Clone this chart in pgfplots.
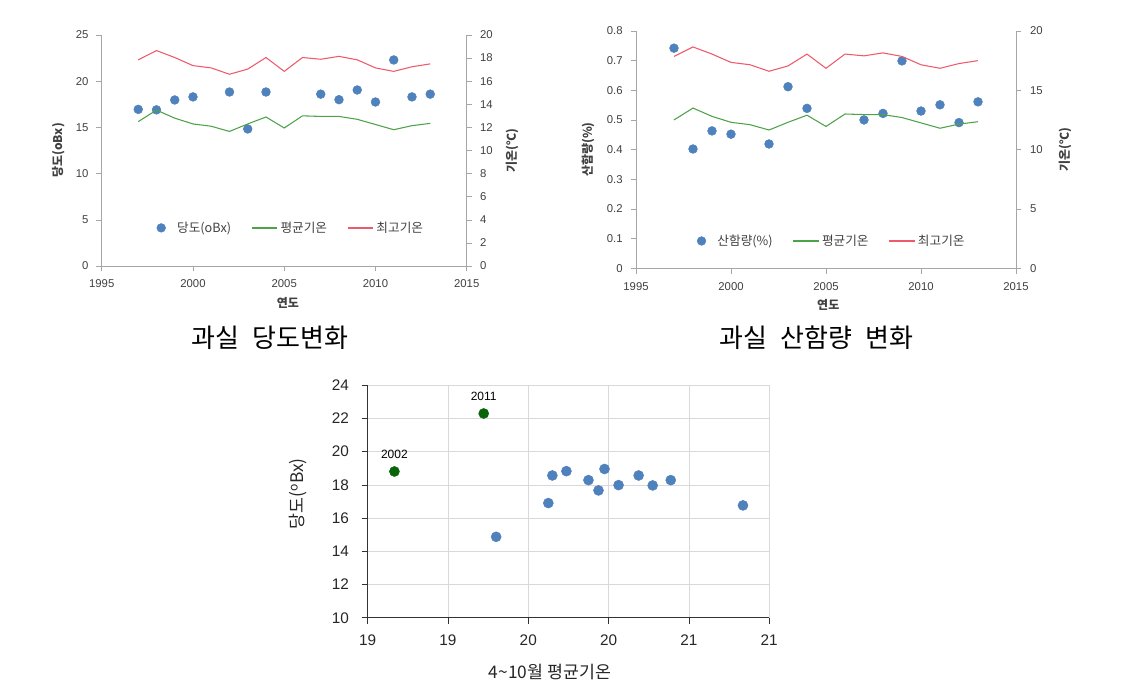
\documentclass[border=0pt]{standalone}
\usepackage{fontspec}
\setmainfont{Liberation Sans}
\newfontfamily\kr{Noto Sans CJK KR}
\usepackage{pgfplots}
\usepackage{pgfplotstable}
\pgfplotsset{compat=1.18}
\definecolor{mblue}{HTML}{4F81BD}
\definecolor{lgreen}{HTML}{4EA24A}
\definecolor{lred}{HTML}{EE5A6A}
\definecolor{axgray}{HTML}{A6A6A6}
\definecolor{txtgray}{HTML}{404040}
\definecolor{dgreen}{HTML}{0A640A}
\definecolor{gridgray}{HTML}{D9D9D9}

\pgfplotstableread{
year brix
1997 16.95
1998 16.90
1999 17.97
2000 18.30
2002 18.83
2003 14.83
2004 18.83
2007 18.60
2008 18.00
2009 19.05
2010 17.75
2011 22.30
2012 18.30
2013 18.60
}\brixtab

\pgfplotstableread{
year acid
1997 0.742
1998 0.402
1999 0.463
2000 0.452
2002 0.419
2003 0.612
2004 0.539
2007 0.500
2008 0.522
2009 0.699
2010 0.530
2011 0.551
2012 0.491
2013 0.561
}\acidtab

\pgfplotstableread{
year mean max
1997 12.50 17.85
1998 13.50 18.65
1999 12.80 18.05
2000 12.30 17.35
2001 12.10 17.15
2002 11.65 16.60
2003 12.30 17.05
2004 12.90 18.05
2005 11.95 16.85
2006 13.00 18.05
2007 12.95 17.90
2008 12.95 18.15
2009 12.70 17.85
2010 12.25 17.15
2011 11.80 16.85
2012 12.15 17.25
2013 12.35 17.50
}\temptab

\pgfplotstableread{
t brix
19.64 14.87
19.90 16.90
19.92 18.56
19.99 18.82
20.10 18.28
20.15 17.66
20.18 18.95
20.25 17.98
20.35 18.56
20.42 17.96
20.51 18.28
20.87 16.76
}\scattab

\pgfplotsset{
  yearbase/.style={
    scale only axis,
    xmin=1995, xmax=2015,
    xtick={1995,2000,...,2015},
    axis line style={axgray},
    tick style={axgray, thin},
    tick align=outside,
    major tick length=4pt,
    ticklabel style={font=\fontsize{8.5}{10}\selectfont, text=txtgray},
    /pgf/number format/assume math mode=true,
    /pgf/number format/1000 sep={},
  },
  legbase/.style={
    legend columns=3,
    legend style={draw=none, fill=none, anchor=center,
      font=\kr\fontsize{9.5}{11}\selectfont, text=txtgray,
      /tikz/every even column/.append style={column sep=13pt}},
  },
  markleg/.style={legend image code/.code={\fill[mblue] (3.25pt,0pt) circle (3.25pt); \path (13pt,0pt);}},
  greenleg/.style={legend image code/.code={\draw[lgreen, line width=1pt] (0pt,0pt) -- (19pt,0pt);}},
  redleg/.style={legend image code/.code={\draw[lred, line width=1pt] (0pt,0pt) -- (19pt,0pt);}},
}

\begin{document}
\begin{tikzpicture}
\useasboundingbox (0,0) rectangle (841.5pt,517.5pt);

% ---------------- Panel 1 ----------------
\begin{axis}[yearbase,
  width=273.75pt, height=173.25pt,
  at={(76.3pt,318pt)}, anchor=south west,
  axis x line*=bottom, axis y line*=left,
  ymin=0, ymax=25, ytick={0,5,...,25},
  yticklabel style={xshift=-2.5pt},
  xticklabel style={yshift=-3pt},
  every axis y label/.style={at={(rel axis cs:-0.119,0.5)}, rotate=90, anchor=center},
  every axis x label/.style={at={(rel axis cs:0.51,-0.159)}, anchor=center},
  ylabel={\kr\bfseries\fontsize{9}{10}\selectfont 당도(oBx)},
  xlabel={\kr\bfseries\fontsize{9}{10}\selectfont 연도},
  label style={text=txtgray},
]
\addplot[only marks, mark=*, mark size=3.3pt, mblue] table[x=year, y=brix] {\brixtab};
\end{axis}
\begin{axis}[yearbase, legbase,
  width=273.75pt, height=173.25pt,
  at={(76.3pt,318pt)}, anchor=south west,
  axis x line=none, axis y line*=right,
  ymin=0, ymax=20, ytick={0,2,...,20},
  yticklabel style={xshift=2.5pt},
  every axis y label/.style={at={(rel axis cs:1.124,0.5)}, rotate=90, anchor=center},
  ylabel={\kr\bfseries\fontsize{9}{10}\selectfont 기온(℃)},
  label style={text=txtgray},
  legend style={at={(0.519,0.165)}},
]
\addlegendimage{mblue, markleg}
\addlegendentry{당도(oBx)}
\addplot[lgreen, line width=0.8pt, greenleg] table[x=year, y=mean] {\temptab};
\addlegendentry{평균기온}
\addplot[lred, line width=0.8pt, redleg] table[x=year, y=max] {\temptab};
\addlegendentry{최고기온}
\end{axis}

% ---------------- Panel 2 ----------------
\begin{axis}[yearbase,
  width=285pt, height=178pt,
  at={(477pt,316.3pt)}, anchor=south west,
  axis x line*=bottom, axis y line*=left,
  ymin=0, ymax=0.8, ytick={0,0.1,...,0.8},
  yticklabel style={xshift=-2.5pt, /pgf/number format/fixed, /pgf/number format/precision=1},
  xticklabel style={yshift=-3pt},
  every axis y label/.style={at={(rel axis cs:-0.126,0.5)}, rotate=90, anchor=center},
  every axis x label/.style={at={(rel axis cs:0.506,-0.155)}, anchor=center},
  ylabel={\kr\bfseries\fontsize{9}{10}\selectfont 산함량(\%)},
  xlabel={\kr\bfseries\fontsize{9}{10}\selectfont 연도},
  label style={text=txtgray},
]
\addplot[only marks, mark=*, mark size=3.3pt, mblue] table[x=year, y=acid] {\acidtab};
\end{axis}
\begin{axis}[yearbase, legbase,
  width=285pt, height=178pt,
  at={(477pt,316.3pt)}, anchor=south west,
  axis x line=none, axis y line*=right,
  ymin=0, ymax=20, ytick={0,5,...,20},
  yticklabel style={xshift=3pt},
  every axis y label/.style={at={(rel axis cs:1.129,0.5)}, rotate=90, anchor=center},
  ylabel={\kr\bfseries\fontsize{9}{10}\selectfont 기온(℃)},
  label style={text=txtgray},
  legend style={at={(0.516,0.115)}},
]
\addlegendimage{mblue, markleg}
\addlegendentry{산함량(\%)}
\addplot[lgreen, line width=0.8pt, greenleg] table[x=year, y=mean] {\temptab};
\addlegendentry{평균기온}
\addplot[lred, line width=0.8pt, redleg] table[x=year, y=max] {\temptab};
\addlegendentry{최고기온}
\end{axis}

% ---------------- Titles ----------------
\node[font=\kr\fontsize{19.5}{21}\selectfont, anchor=center] at (202.3pt,264pt) {과실\hspace{0.5em}당도변화};
\node[font=\kr\fontsize{19.5}{21}\selectfont, anchor=center] at (612.5pt,264pt) {과실\hspace{0.5em}산함량\hspace{0.5em}변화};

% ---------------- Panel 3 ----------------
\begin{axis}[
  scale only axis,
  width=301pt, height=174.5pt,
  at={(275.8pt,54.2pt)}, anchor=south west,
  xmin=19, xmax=21, ymin=10, ymax=24,
  xtick={19,19.4,19.8,20.2,20.6,21},
  xticklabels={19,19,20,20,21,21},
  ytick={10,12,...,24},
  axis x line*=bottom, axis y line*=left,
  grid=major, grid style={gridgray, thin},
  axis line style={black!80, thick},
  tick style={black!80, thin},
  tick align=outside,
  major tick length=4.5pt,
  ticklabel style={font=\fontsize{11.5}{13}\selectfont, text=black!85},
  yticklabel style={xshift=-6pt},
  xticklabel style={yshift=-4.5pt},
  /pgf/number format/assume math mode=true,
  every axis y label/.style={at={(rel axis cs:-0.174,0.532)}, rotate=90, anchor=center},
  every axis x label/.style={at={(rel axis cs:0.454,-0.233)}, anchor=center},
  ylabel={\kr\fontsize{13}{15}\selectfont 당도(\textsuperscript{o}Bx)},
  xlabel={\kr\fontsize{13}{15}\selectfont 4\textasciitilde10월 평균기온},
  label style={text=black!85},
]
\addplot[only marks, mark=*, mark size=3.75pt, mblue] table[x=t, y=brix] {\scattab};
\addplot[only marks, mark=*, mark size=3.75pt, dgreen,
  point meta=explicit symbolic,
  nodes near coords,
  every node near coord/.append style={anchor=south, yshift=6pt, text=black, font=\fontsize{9}{10}\selectfont}]
  coordinates {(19.133,18.80)[2002] (19.578,22.29)[2011]};
\end{axis}
\end{tikzpicture}
\end{document}
